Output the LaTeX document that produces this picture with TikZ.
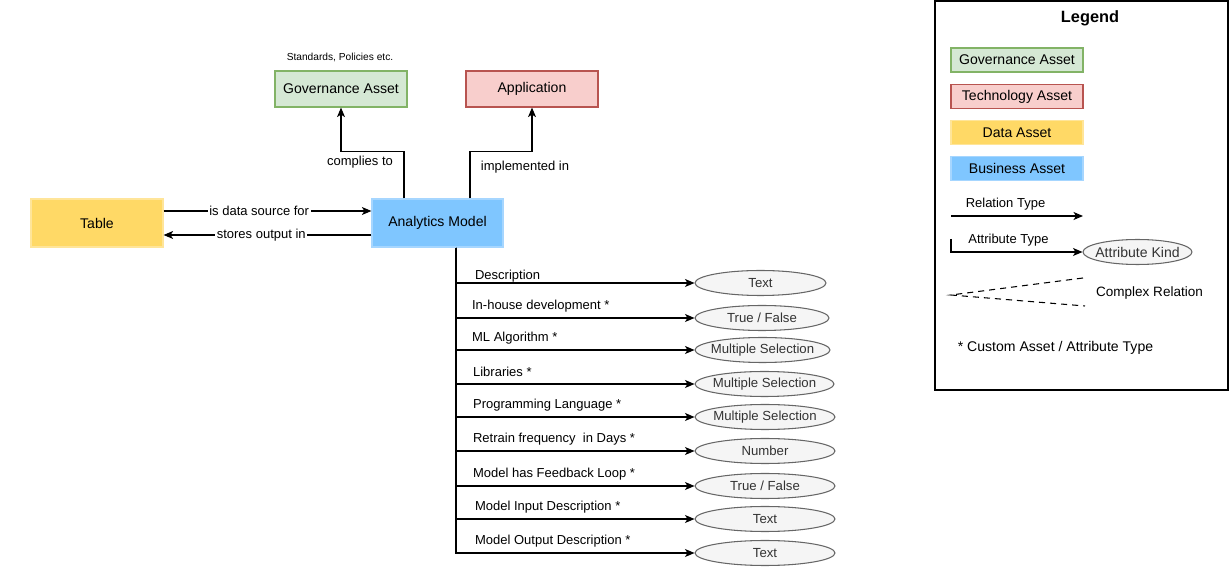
\documentclass[tikz,border=0pt]{standalone}
\usepackage{fontspec}
\setmainfont{Liberation Sans}
\usetikzlibrary{arrows.meta,shapes.geometric}
\definecolor{govfill}{HTML}{D5E8D4}
\definecolor{govline}{HTML}{82B366}
\definecolor{techfill}{HTML}{F8CECC}
\definecolor{techline}{HTML}{B85450}
\definecolor{datafill}{HTML}{FFD966}
\definecolor{dataline}{HTML}{FFE599}
\definecolor{busfill}{HTML}{7FC6FF}
\definecolor{busline}{HTML}{A6D6FF}
\definecolor{kindfill}{HTML}{F5F5F5}
\definecolor{kindline}{HTML}{666666}
\definecolor{kindtext}{HTML}{333333}
\tikzset{
    asset/.style={rectangle, draw, line width=0.7pt, inner sep=0pt,
    	minimum width=2.64cm, font=\fontsize{8}{9.6}\selectfont}
}
\tikzset{
    govasset/.style={asset, fill=govfill, draw=govline},
    techasset/.style={asset, fill=techfill, draw=techline},
    dataasset/.style={asset, fill=datafill, draw=dataline},
    busasset/.style={asset, fill=busfill, draw=busline}
}
\tikzset{
    kind/.style={ellipse, draw=kindline, fill=kindfill, line width=0.6pt,
    	inner sep=0pt, minimum height=0.5cm, text=kindtext,
    	font=\fontsize{7.5}{9}\selectfont},
    rel/.style={line width=0.6pt, -{Stealth[length=1.9mm, width=1.6mm, inset=0.5mm]}},
    lbl/.style={inner sep=1pt, font=\fontsize{7.4}{9}\selectfont},
    attrlbl/.style={lbl, anchor=west}
}

\begin{document}
\begin{tikzpicture}[x=0.02cm, y=-0.02cm]
  \useasboundingbox (0,0) rectangle (1232,587);

  % main assets
  \node[lbl, font=\fontsize{5.8}{7}\selectfont] (std) at (340,57) {Standards, Policies etc.};
  \node[govasset, minimum height=0.72cm] (gov) at (341,89) {Governance Asset};
  \node[techasset, minimum height=0.72cm] (app) at (532,89) {Application};
  \node[dataasset, minimum height=0.96cm] (tab) at (97,223) {Table};
  \node[busasset, minimum height=0.96cm, minimum width=2.62cm] (am) at (437.5,223) {Analytics Model};

  \draw[rel] ([yshift=0.24cm]tab.east) -- node[lbl, fill=white, pos=0.46] {is data source for} ([yshift=0.24cm]am.west);
  \draw[rel] ([yshift=-0.24cm]am.west) -- node[lbl, fill=white, pos=0.53] {stores output in} ([yshift=-0.24cm]tab.east);
  \draw[rel] ([xshift=-0.67cm]am.north) -- ++(0,-47) -| (gov.south);
  \draw[rel] ([xshift=0.65cm]am.north) -- ++(0,-47) -| (app.south);
  \node[lbl] (cto) at (360,162) {complies to};
  \node[lbl] (imp) at (525,167) {implemented in};

  % attributes
  \node[kind, minimum width=2.62cm] (1) at (760.5,283) {Text};
  \node[kind, minimum width=2.68cm] (2) at (762,318) {True / False};
  \node[kind, minimum width=2.70cm] (3) at (762.5,350) {\makebox[0pt]{Multiple Selection}};
  \node[kind, minimum width=2.78cm] (4) at (764.5,384) {\makebox[0pt]{Multiple Selection}};
  \node[kind, minimum width=2.80cm] (5) at (765,417) {\makebox[0pt]{Multiple Selection}};
  \node[kind, minimum width=2.80cm] (6) at (765,451) {Number};
  \node[kind, minimum width=2.80cm] (7) at (765,486) {True / False};
  \node[kind, minimum width=2.80cm] (8) at (765,519) {Text};
  \node[kind, minimum width=2.80cm] (9) at (765,553) {Text};

  \draw[rel] ([xshift=0.37cm]am.south) |- (1.west);
  \draw[rel] ([xshift=0.37cm]am.south) |- (2.west);
  \draw[rel] ([xshift=0.37cm]am.south) |- (3.west);
  \draw[rel] ([xshift=0.37cm]am.south) |- (4.west);
  \draw[rel] ([xshift=0.37cm]am.south) |- (5.west);
  \draw[rel] ([xshift=0.37cm]am.south) |- (6.west);
  \draw[rel] ([xshift=0.37cm]am.south) |- (7.west);
  \draw[rel] ([xshift=0.37cm]am.south) |- (8.west);
  \draw[rel] ([xshift=0.37cm]am.south) |- (9.west);

  \node[attrlbl] (l1) at (473,276) {Description};
  \node[attrlbl] (l2) at (470,306.5) {In-house development *};
  \node[attrlbl] (l3) at (470,338) {ML Algorithm *};
  \node[attrlbl] (l4) at (471,372) {Libraries *};
  \node[attrlbl] (l5) at (471,405) {Programming Language *};
  \node[attrlbl] (l6) at (471,439) {Retrain frequency \ in Days *};
  \node[attrlbl] (l7) at (471,474) {Model has Feedback Loop *};
  \node[attrlbl] (l8) at (473,507) {Model Input Description *};
  \node[attrlbl] (l9) at (473,541) {Model Output Description *};

  % legend
  \draw[line width=0.8pt] (935,1) rectangle (1228,390);
  \node[font=\bfseries\fontsize{9.3}{11}\selectfont] (leg) at (1090,18) {Legend};
  \node[govasset, minimum height=0.48cm] (lg) at (1017,60) {Governance Asset};
  \node[techasset, minimum height=0.48cm] (lt) at (1017,96.5) {Technology Asset};
  \node[dataasset, minimum height=0.48cm] (ld) at (1017,132.5) {Data Asset};
  \node[busasset, minimum height=0.48cm] (lb) at (1017,168.5) {Business Asset};

  \coordinate (r0) at (951,216);
  \coordinate (r1) at (1083,216);
  \draw[rel] (r0) -- (r1);
  \node[lbl] (rt) at (1005.5,204) {Relation Type};

  \coordinate (t0) at (951,239);
  \node[kind, minimum width=2.18cm, font=\fontsize{8}{9.6}\selectfont] (lk) at (1137.5,252) {\makebox[0pt]{Attribute Kind}};
  \draw[rel] (t0) |- (lk.west);
  \node[lbl] (at) at (1008.5,240) {Attribute Type};

  \coordinate (c0) at (951,295);
  \coordinate (c1) at (1083,278);
  \coordinate (c2) at (1085,306);
  \draw[line width=0.6pt, dash pattern=on 3.5pt off 2.8pt] (c1) -- (c0) -- (c2);
  \node[lbl, font=\fontsize{7.7}{9}\selectfont] (cr) at (1149.5,293) {Complex Relation};

  \node[lbl, font=\fontsize{8}{9.6}\selectfont] (note) at (1055.5,348) {* Custom Asset / Attribute Type};
\end{tikzpicture}
\end{document}
